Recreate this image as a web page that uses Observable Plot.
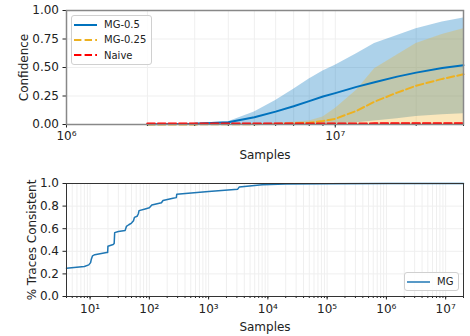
<!DOCTYPE html>
<html><head><meta charset="utf-8">
<script src="https://cdn.jsdelivr.net/npm/d3@7"></script>
<script src="https://cdn.jsdelivr.net/npm/@observablehq/plot@0.6"></script>
<style>
body{margin:0;background:#fff;font-family:"DejaVu Sans",sans-serif;}
#wrap{position:relative;width:470px;height:336px;overflow:hidden;}
.chart{position:absolute;left:0;}
.legend{position:absolute;box-sizing:border-box;background:rgba(255,255,255,0.85);border:1px solid #d0d0d0;border-radius:3px;font-size:10px;color:#222;padding:1px 0 0 2px;}
.row{display:flex;align-items:center;height:15.3px;white-space:nowrap;}
.row svg{margin-right:7px;}
</style></head><body>
<div id="wrap"></div>
<script>
// ---- Top chart data ----
const topSamples = [2e6, 3e6, 4e6, 5e6, 6e6, 7e6, 8e6, 9e6, 1e7, 1.2e7, 1.4e7, 1.7e7, 2e7, 2.5e7, 3e7];
const mg05Mean   = [0.003, 0.006, 0.02, 0.063, 0.113, 0.16, 0.205, 0.245, 0.275, 0.33, 0.37, 0.42, 0.455, 0.495, 0.52];
const mg05Upper  = [0.005, 0.01, 0.025, 0.11, 0.21, 0.31, 0.40, 0.47, 0.52, 0.62, 0.71, 0.78, 0.84, 0.90, 0.935];
const mg05Lower  = [0, 0, 0, 0, 0, 0, 0, 0, 0.005, 0.015, 0.03, 0.05, 0.07, 0.085, 0.095];
const mg025Mean  = [0.001, 0.001, 0.002, 0.003, 0.005, 0.01, 0.015, 0.03, 0.05, 0.12, 0.2, 0.28, 0.34, 0.40, 0.44];
const mg025Upper = [0.002, 0.002, 0.004, 0.006, 0.01, 0.02, 0.03, 0.065, 0.14, 0.30, 0.49, 0.61, 0.71, 0.79, 0.84];
const mg025Lower = [0, 0, 0, 0, 0, 0, 0, 0, 0, 0, 0, 0, 0, 0, 0];
const naiveMean  = [0.008, 0.008, 0.008, 0.008, 0.008, 0.008, 0.008, 0.008, 0.008, 0.008, 0.009, 0.009, 0.009, 0.01, 0.01];
const topSeries = ["MG-0.5", "MG-0.25", "Naive"];
const topYTicks = [0, 0.25, 0.5, 0.75, 1];
const topXMajor = [1e6, 1e7];

// ---- Bottom chart data ----
const mgSamples = [4, 8, 9.5, 10.2, 10.5, 11, 12, 19, 19.8, 20, 24.5, 25.5, 26, 30, 39, 41, 45, 50, 54, 56, 62, 65, 67, 85, 100, 110, 160, 170, 250, 285, 290, 1000, 3100, 3300, 8000, 20000, 1e5, 1e6, 2e7];
const mgConsistent = [0.25, 0.265, 0.28, 0.30, 0.33, 0.36, 0.37, 0.39, 0.39, 0.445, 0.46, 0.47, 0.565, 0.575, 0.585, 0.62, 0.635, 0.65, 0.67, 0.70, 0.71, 0.73, 0.76, 0.775, 0.785, 0.81, 0.83, 0.85, 0.87, 0.875, 0.905, 0.93, 0.95, 0.97, 0.99, 0.995, 0.997, 0.999, 1.0];
const bottomYTicks = [0, 0.2, 0.4, 0.6, 0.8, 1.0];
const bottomXMajor = [1e1, 1e2, 1e3, 1e4, 1e5, 1e6, 1e7];

const topRows = topSamples.map((x, i) => ({x, mg05: mg05Mean[i], hi05: mg05Upper[i], lo05: mg05Lower[i],
  mg025: mg025Mean[i], hi025: mg025Upper[i], lo025: mg025Lower[i], naive: naiveMean[i]}));
const mgRows = mgSamples.map((x, i) => ({x, y: mgConsistent[i]}));

const sup = {"0":"⁰","1":"¹","2":"²","3":"³","4":"⁴","5":"⁵","6":"⁶","7":"⁷","8":"⁸","9":"⁹","-":"⁻"};
const fmtPow = d => "10" + String(Math.round(Math.log10(d))).split("").map(c => sup[c]).join("");
const style = {fontFamily: "DejaVu Sans", fontSize: "12px", color: "#222", background: "white", overflow: "visible"};
const gridColor = "#efefef";

const topDomain = [1e6, 3e7];
const topTicks = d3.scaleLog().domain(topDomain).ticks();
const topChart = Plot.plot({
  width: 470, height: 168, marginLeft: 66, marginRight: 7, marginTop: 10, marginBottom: 44,
  style,
  x: {type: "log", domain: topDomain},
  y: {domain: [0, 1]},
  marks: [
    Plot.gridX(topTicks, {stroke: gridColor, strokeOpacity: 1}),
    Plot.gridY(topYTicks, {stroke: gridColor, strokeOpacity: 1}),
    Plot.areaY(topRows, {x: "x", y1: "lo05", y2: "hi05", fill: "#0072BD", fillOpacity: 0.32}),
    Plot.areaY(topRows, {x: "x", y1: "lo025", y2: "hi025", fill: "#EDB120", fillOpacity: 0.3}),
    Plot.line(topRows, {x: "x", y: "mg05", stroke: "#0072BD", strokeWidth: 2}),
    Plot.line(topRows, {x: "x", y: "mg025", stroke: "#EDB120", strokeWidth: 2, strokeDasharray: "7.4,3.2"}),
    Plot.line(topRows, {x: "x", y: "naive", stroke: "#FF0000", strokeWidth: 2.2, strokeDasharray: "7.4,3.2"}),
    Plot.axisX(topTicks, {tickSize: 2, tickFormat: () => "", label: null}),
    Plot.axisX(topXMajor, {tickSize: 3.5, tickPadding: 3, tickFormat: fmtPow, label: "Samples", labelAnchor: "center", labelOffset: 34, labelArrow: "none"}),
    Plot.axisY(topYTicks, {tickSize: 3.5, tickPadding: 4, tickFormat: d3.format(".2f"), label: "Confidence", labelAnchor: "center", labelOffset: 47, labelArrow: "none"}),
    Plot.frame({stroke: "#888", strokeWidth: 1.5})
  ]
});

const botDomain = [4, 2e7];
const botTicks = d3.scaleLog().domain(botDomain).ticks();
const botChart = Plot.plot({
  width: 470, height: 168, marginLeft: 66, marginRight: 7, marginTop: 15, marginBottom: 40,
  style,
  x: {type: "log", domain: botDomain},
  y: {domain: [0, 1]},
  marks: [
    Plot.gridX(botTicks, {stroke: gridColor, strokeOpacity: 1}),
    Plot.gridY(bottomYTicks, {stroke: gridColor, strokeOpacity: 1}),
    Plot.line(mgRows, {x: "x", y: "y", stroke: "#1f77b4", strokeWidth: 1.5}),
    Plot.axisX(botTicks, {tickSize: 2, tickFormat: () => "", label: null}),
    Plot.axisX(bottomXMajor, {tickSize: 3.5, tickPadding: 4, tickFormat: fmtPow, label: "Samples", labelAnchor: "center", labelOffset: 34, labelArrow: "none"}),
    Plot.axisY(bottomYTicks, {tickSize: 3.5, tickPadding: 4, tickFormat: d3.format(".1f"), label: "% Traces Consistent", labelAnchor: "center", labelOffset: 39, labelArrow: "none"}),
    Plot.frame({stroke: "#333", strokeWidth: 1})
  ]
});

const wrap = document.getElementById("wrap");
topChart.classList.add("chart"); topChart.style.top = "0px";
botChart.classList.add("chart"); botChart.style.top = "168px";
wrap.appendChild(topChart);
wrap.appendChild(botChart);

function swatch(color, dashed, width) {
  return `<svg width="23" height="6"><line x1="0" y1="3" x2="23" y2="3" stroke="${color}" stroke-width="${width}" ${dashed ? 'stroke-dasharray="7.4,3.2"' : ""}/></svg>`;
}
const topColors = ["#0072BD", "#EDB120", "#FF0000"];
const topDashed = [false, true, true];
const lg1 = document.createElement("div");
lg1.className = "legend";
Object.assign(lg1.style, {left: "71px", top: "15px", width: "81px", height: "50px"});
lg1.innerHTML = topSeries.map((s, i) => `<div class="row">${swatch(topColors[i], topDashed[i], 2)}<span>${s}</span></div>`).join("");
wrap.appendChild(lg1);

const lg2 = document.createElement("div");
lg2.className = "legend";
Object.assign(lg2.style, {left: "404px", top: "272px", width: "55px", height: "19px"});
lg2.innerHTML = `<div class="row">${swatch("#1f77b4", false, 1.5)}<span>MG</span></div>`;
wrap.appendChild(lg2);
</script>
</body></html>
